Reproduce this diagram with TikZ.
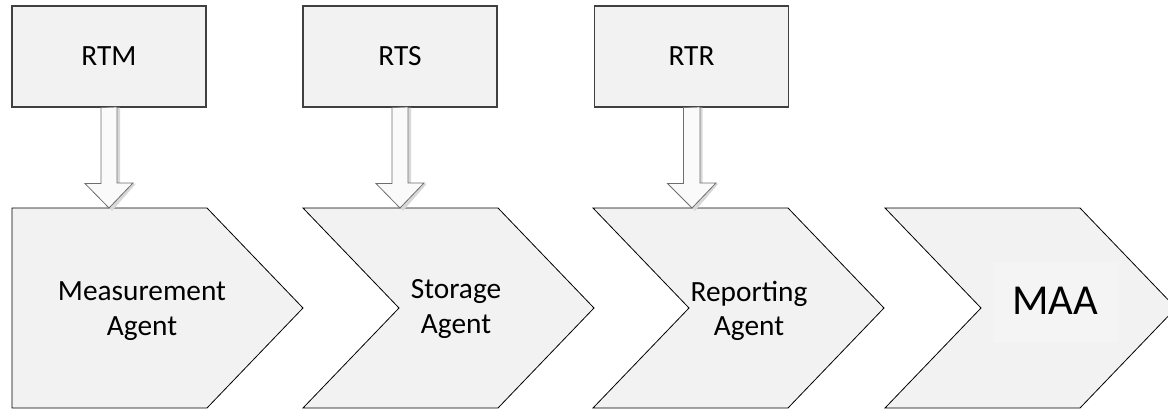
\documentclass[tikz,border=0pt]{standalone}
\usepackage{fontspec}
\setmainfont{Carlito}
\usetikzlibrary{calc}

\definecolor{boxfill}{HTML}{F2F2F2}
\definecolor{boxline}{HTML}{404040}
\definecolor{arrowfill}{HTML}{FAFAFA}
\definecolor{arrowline}{HTML}{6E6E6E}
\definecolor{shadowfill}{HTML}{D8D8D8}
\definecolor{textfill}{HTML}{F4F4F4}

\tikzset{
  topbox/.style={draw=boxline, line width=0.8pt, fill=boxfill,
    minimum width=145.5pt, minimum height=75.75pt, inner sep=0pt,
    font=\fontsize{22}{26}\selectfont},
  chevron/.style={draw=black, line width=0.6pt, fill=boxfill},
  agentlabel/.style={align=center, inner sep=0pt,
    font=\fontsize{22}{26}\selectfont},
  arrowbody/.style={draw=arrowline, line width=0.6pt, fill=arrowfill},
  arrowshadow/.style={fill=shadowfill}
}

% block arrow from the bottom of a box (#1) to a tip coordinate (#2)
\newcommand{\blockarrow}[2]{%
  \fill[arrowshadow] ([shift={(11,0)}]#1.south) -- ++(0,76) -- ++(16,0)
    -- ([shift={(3,3)}]#2) -- ++(-24,-25) -- ++(16,0) -- ++(0,-76) -- cycle;
  \draw[arrowbody] ([shift={(-8,0)}]#1.south) -- ++(0,76) -- ++(-16,0)
    -- (#2) -- ++(24,-25) -- ++(-16,0) -- ++(0,-76) -- cycle;
}

\begin{document}
\begin{tikzpicture}[x=0.75pt, y=-0.75pt]
\useasboundingbox (0,0) rectangle (1168,410);

% chevrons
\draw[chevron] (12,208) -- (207,208) -- (303,308) -- (207,408) -- (12,408) -- cycle;
\foreach \x in {303, 593, 885}
  \draw[chevron] (\x,208) -- ++(195,0) -- ++(96,100) -- ++(-96,100)
    -- ++(-195,0) -- ++(96,-100) -- cycle;

% faint text box of the last chevron
\fill[textfill] (993,263) rectangle (1118,343);

% top boxes
\node[topbox] (rtm) at (109,56.5) {RTM};
\node[topbox] (rts) at (400,56.5) {RTS};
\node[topbox] (rtr) at (691.5,56.5) {RTR};

\coordinate (rtmtip) at (109,208);
\coordinate (rtstip) at (400,208);
\coordinate (rtrtip) at (692,208);

\blockarrow{rtm}{rtmtip}
\blockarrow{rts}{rtstip}
\blockarrow{rtr}{rtrtip}

% labels
\node[agentlabel] (ma) at (142,311) {Measurement\\Agent};
\node[agentlabel] (sa) at (456,309) {Storage\\Agent};
\node[agentlabel] (ra) at (749,311) {Reporting\\Agent};
\node[inner sep=0pt, font=\fontsize{32}{36}\selectfont] (maa) at (1055,300.5) {MAA};
\end{tikzpicture}
\end{document}
